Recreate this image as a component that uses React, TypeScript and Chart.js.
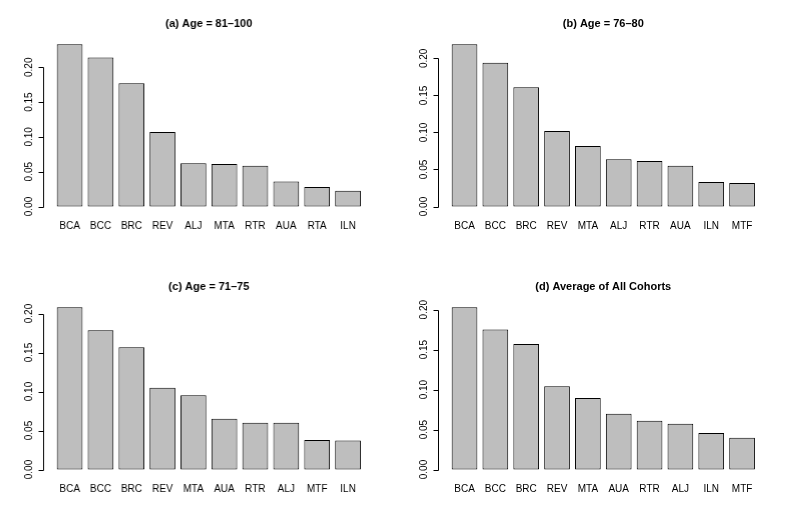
import React, { useEffect, useRef } from "react";
import { Chart, registerables } from "chart.js";

Chart.register(...registerables);

const titleA = "(a) Age = 81–100";
const catsA = ["BCA", "BCC", "BRC", "REV", "ALJ", "MTA", "RTR", "AUA", "RTA", "ILN"];
const valsA = [0.233, 0.214, 0.177, 0.107, 0.062, 0.061, 0.0586, 0.036, 0.028, 0.0226];

const titleB = "(b) Age = 76–80";
const catsB = ["BCA", "BCC", "BRC", "REV", "MTA", "ALJ", "RTR", "AUA", "ILN", "MTF"];
const valsB = [0.219, 0.194, 0.161, 0.102, 0.0817, 0.0637, 0.0614, 0.0551, 0.033, 0.0316];

const titleC = "(c) Age = 71–75";
const catsC = ["BCA", "BCC", "BRC", "REV", "MTA", "AUA", "RTR", "ALJ", "MTF", "ILN"];
const valsC = [0.208, 0.1786, 0.1567, 0.1047, 0.0953, 0.0652, 0.0601, 0.0601, 0.0378, 0.0373];

const titleD = "(d) Average of All Cohorts";
const catsD = ["BCA", "BCC", "BRC", "REV", "MTA", "AUA", "RTR", "ALJ", "ILN", "MTF"];
const valsD = [0.203, 0.1753, 0.157, 0.1042, 0.0895, 0.0699, 0.0611, 0.0573, 0.0456, 0.0397];

const yTicks = [0, 0.05, 0.1, 0.15, 0.2];
const yTickLabels = ["0.00", "0.05", "0.10", "0.15", "0.20"];

const TICK_FONT = "10px 'Liberation Sans Narrow', 'Liberation Sans', Arial, sans-serif";
const TITLE_FONT = "bold 11px 'Liberation Sans', Arial, sans-serif";

const rAxisPlugin = {
  id: "rAxis",
  afterDraw(chart: any) {
    const { ctx, chartArea, scales } = chart;
    const y = scales.y;
    const x = scales.x;
    const cat = x.width / chart.data.labels.length;
    const axisX = Math.round(chartArea.left - 0.345 * cat) + 0.5;
    const y0 = y.getPixelForValue(yTicks[0]);
    const y1 = y.getPixelForValue(yTicks[yTicks.length - 1]);
    ctx.save();
    ctx.strokeStyle = "#000";
    ctx.lineWidth = 1;
    ctx.beginPath();
    ctx.moveTo(axisX, Math.round(y0) + 0.5);
    ctx.lineTo(axisX, Math.round(y1) + 0.5);
    yTicks.forEach((t) => {
      const py = Math.round(y.getPixelForValue(t)) + 0.5;
      ctx.moveTo(axisX, py);
      ctx.lineTo(axisX - 5, py);
    });
    ctx.stroke();
    ctx.fillStyle = "#000";
    ctx.font = TICK_FONT;
    ctx.textAlign = "center";
    ctx.textBaseline = "middle";
    yTicks.forEach((t, i) => {
      const py = y.getPixelForValue(t);
      ctx.save();
      ctx.translate(axisX - 14.5, py);
      ctx.rotate(-Math.PI / 2);
      ctx.fillText(yTickLabels[i], 0, 0);
      ctx.restore();
    });
    ctx.font = TITLE_FONT;
    ctx.textAlign = "center";
    ctx.textBaseline = "middle";
    ctx.fillText(chart.options.plugins.rAxis.title, (chartArea.left + chartArea.right) / 2, 24.3);
    ctx.restore();
  },
};

function Panel({ title, cats, vals, left, top }: { title: string; cats: string[]; vals: number[]; left: number; top: number }) {
  const ref = useRef<HTMLCanvasElement>(null);
  useEffect(() => {
    if (!ref.current) return;
    const yMax = Math.max(...vals);
    const chart = new Chart(ref.current, {
      type: "bar",
      data: {
        labels: cats,
        datasets: [
          {
            data: vals,
            backgroundColor: "#bebebe",
            borderColor: "#000",
            borderWidth: 1,
            borderSkipped: false,
            categoryPercentage: 1 / 1.2,
            barPercentage: 1,
          },
        ],
      },
      options: {
        animation: false,
        responsive: true,
        maintainAspectRatio: false,
        layout: { padding: { left: 54.1, right: 32, top: 37.8, bottom: 24 } },
        plugins: {
          legend: { display: false },
          tooltip: { enabled: false },
          title: { display: false },
          rAxis: { title },
        } as any,
        scales: {
          x: {
            type: "category",
            offset: true,
            grid: { display: false, drawTicks: false },
            border: { display: false },
            ticks: {
              color: "#000",
              padding: 7,
              autoSkip: false,
              maxRotation: 0,
              font: { family: "'Liberation Sans Narrow', 'Liberation Sans', Arial, sans-serif", size: 10 },
            },
          },
          y: {
            display: false,
            min: -0.04 * yMax,
            max: 1.04 * yMax,
          },
        },
      },
      plugins: [rAxisPlugin],
    });
    return () => chart.destroy();
  }, []);
  return (
    <div style={{ position: "absolute", left, top, width: 394.5, height: 263 }}>
      <canvas ref={ref} />
    </div>
  );
}

export default function App() {
  return (
    <div style={{ position: "fixed", left: 0, top: 0, width: 789, height: 526, background: "#fff" }}>
      <Panel title={titleA} cats={catsA} vals={valsA} left={0} top={0} />
      <Panel title={titleB} cats={catsB} vals={valsB} left={394.5} top={0} />
      <Panel title={titleC} cats={catsC} vals={valsC} left={0} top={263} />
      <Panel title={titleD} cats={catsD} vals={valsD} left={394.5} top={263} />
    </div>
  );
}
